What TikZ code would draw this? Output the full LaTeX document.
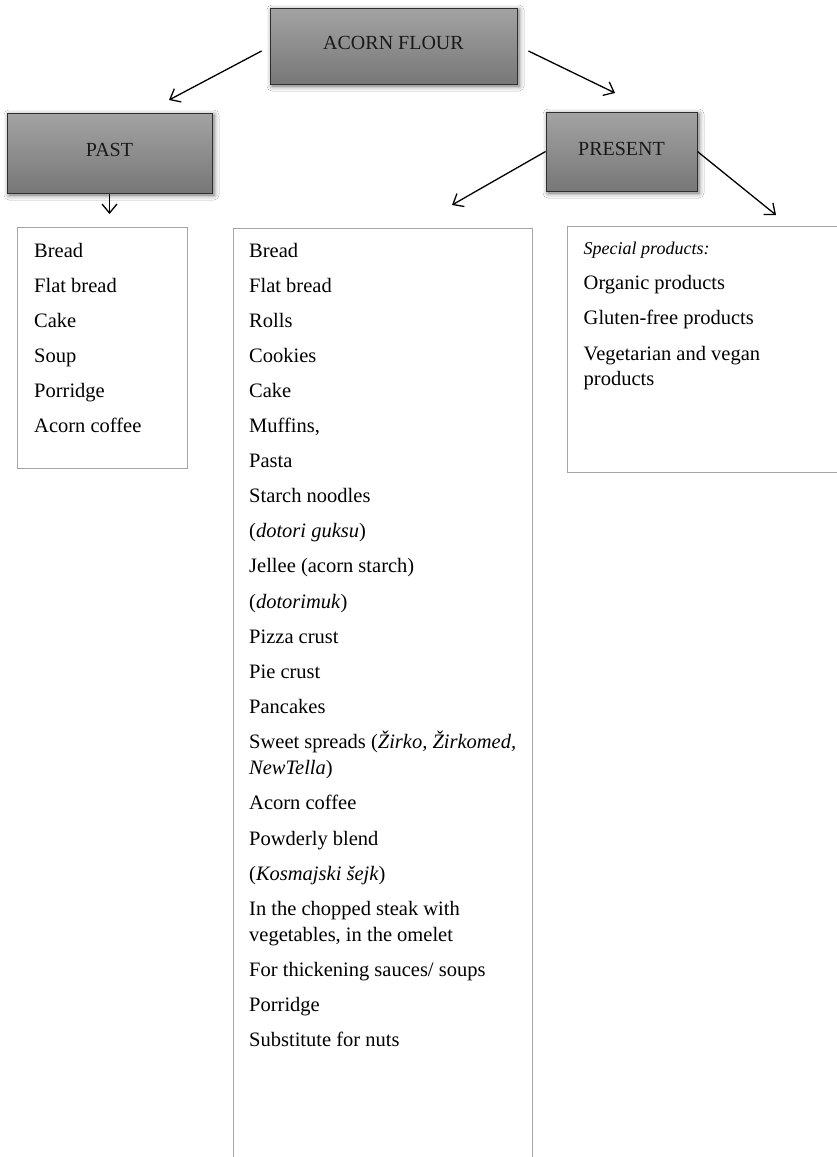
\documentclass[tikz,border=0pt]{standalone}
\usepackage{fontspec}
\setmainfont{Liberation Serif}
\usetikzlibrary{arrows.meta,shadows.blur}
\definecolor{boxtop}{HTML}{A3A3A3}
\definecolor{boxbot}{HTML}{777777}
\definecolor{boxline}{HTML}{2E2E2E}
\definecolor{listline}{HTML}{A5A5A5}
\tikzset{
  headbox/.style={draw=boxline, line width=0.9pt, top color=boxtop, bottom color=boxbot,
    inner sep=0pt, text depth=6pt, font=\fontsize{20}{24}\selectfont, text=black!90,
    blur shadow={shadow xshift=2pt, shadow yshift=-2pt, shadow blur radius=5pt, shadow opacity=60}},
  listbox/.style={draw=listline, line width=1.3pt, anchor=north west, inner sep=0pt},
  entry/.style={anchor=base west, inner sep=0pt, font=\fontsize{20.5}{26}\selectfont},
  arr/.style={line width=1.3pt, -{Straight Barb[length=9pt,width=15pt]}}
}
\begin{document}
\begin{tikzpicture}[x=1pt,y=-1pt]
\useasboundingbox (0,0) rectangle (837,1157);
\fill[white] (0,0) rectangle (837,1157);
\clip (0,0) rectangle (837,1157);

% header boxes
\node[headbox, minimum width=247pt, minimum height=76pt] (acorn) at (393.5,46) {ACORN FLOUR};
\node[headbox, minimum width=205pt, minimum height=80pt] (past) at (109.5,153) {PAST};
\node[headbox, minimum width=151pt, minimum height=79pt] (present) at (621.5,151.5) {PRESENT};

% list boxes
\node[listbox, minimum width=170pt, minimum height=241pt] (pastlist) at (17,227) {};
\node[listbox, minimum width=299pt, minimum height=960pt] (midlist) at (233,228) {};
\node[listbox, minimum width=290pt, minimum height=246pt] (rightlist) at (567,226) {};

% arrows
\coordinate (a1s) at ([shift={(-8pt,-5pt)}]acorn.west);
\coordinate (a1e) at (169,100);
\coordinate (a2s) at ([shift={(11pt,-5pt)}]acorn.east);
\coordinate (a2e) at (615,93);
\coordinate (a3s) at ([shift={(0pt,-1pt)}]past.south);
\coordinate (a3e) at (109.5,214);
\coordinate (a4s) at (present.west);
\coordinate (a4e) at (452,205);
\coordinate (a5s) at (present.east);
\coordinate (a5e) at (776,215);
\draw[arr] (a1s) -- (a1e);
\draw[arr] (a2s) -- (a2e);
\draw[arr] (a3s) -- (a3e);
\draw[arr] (a4s) -- (a4e);
\draw[arr] (a5s) -- (a5e);

% past list
\foreach \t [count=\i] in {Bread, Flat bread, Cake, Soup, Porridge, Acorn coffee}
  \node[entry] (p\i) at (34,{257+35.1*(\i-1)}) {\t};

% present list (middle)
\node[entry] (m1) at (249,257) {Bread};
\node[entry] (m2) at (249,292.1) {Flat bread};
\node[entry] (m3) at (249,327.2) {Rolls};
\node[entry] (m4) at (249,362.3) {Cookies};
\node[entry] (m5) at (249,397.4) {Cake};
\node[entry] (m6) at (249,432.5) {Muffins,};
\node[entry] (m7) at (249,467.6) {Pasta};
\node[entry] (m8) at (249,502.7) {Starch noodles};
\node[entry] (m9) at (249,537.8) {(\textit{dotori guksu})};
\node[entry] (m10) at (249,572.9) {Jellee (acorn starch)};
\node[entry] (m11) at (249,608) {(\textit{dotorimuk})};
\node[entry] (m12) at (249,643.1) {Pizza crust};
\node[entry] (m13) at (249,678.2) {Pie crust};
\node[entry] (m14) at (249,713.3) {Pancakes};
\node[entry] (m15) at (249,748.5) {Sweet spreads (\textit{Žirko, Žirkomed,}};
\node[entry] (m15b) at (249,774.5) {\textit{NewTella})};
\node[entry] (m16) at (249,809.7) {Acorn coffee};
\node[entry] (m17) at (249,845) {Powderly blend};
\node[entry] (m18) at (249,880) {(\textit{Kosmajski šejk})};
\node[entry] (m19) at (249,915.5) {In the chopped steak with};
\node[entry] (m19b) at (249,941.5) {vegetables, in the omelet};
\node[entry] (m20) at (249,976.5) {For thickening sauces/ soups};
\node[entry] (m21) at (249,1011.5) {Porridge};
\node[entry] (m22) at (249,1046.5) {Substitute for nuts};

% present list (right)
\node[entry, font=\fontsize{18}{22}\selectfont\itshape] (r0) at (583.5,254) {Special products:};
\node[entry] (r1) at (583.5,289) {Organic products};
\node[entry] (r2) at (583.5,324.5) {Gluten-free products};
\node[entry] (r3) at (583.5,360) {Vegetarian and vegan};
\node[entry] (r3b) at (583.5,385) {products};
\end{tikzpicture}
\end{document}
